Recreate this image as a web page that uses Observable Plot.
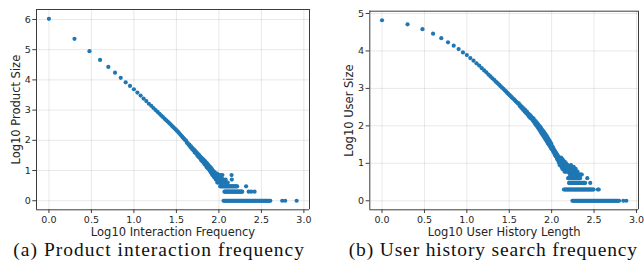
<!DOCTYPE html>
<html><head><meta charset="utf-8">
<script src="https://cdn.jsdelivr.net/npm/d3@7"></script>
<script src="https://cdn.jsdelivr.net/npm/@observablehq/plot@0.6"></script>
<style>
html,body{margin:0;padding:0;background:#fff;}
body{width:644px;height:266px;overflow:hidden;position:relative;font-family:"DejaVu Sans";}
#pa,#pb{position:absolute;top:0;}
#pa{left:0;} #pb{left:322px;}
#cap{position:absolute;left:0;top:0;pointer-events:none;}
</style></head><body>
<div id="pa"></div><div id="pb"></div>
<svg id="cap" width="644" height="266"></svg>
<script>
// ---------- data (log10 values) ----------
const captions = ["(a) Product interaction frequency", "(b) User history search frequency"];
const xLabels = ["Log10 Interaction Frequency", "Log10 User History Length"];
const yLabels = ["Log10 Product Size", "Log10 User Size"];
const xTicks = [0, 0.5, 1, 1.5, 2, 2.5, 3];
const yTicksA = [0, 1, 2, 3, 4, 5, 6];
const yTicksB = [0, 1, 2, 3, 4, 5];

// panel (a): head of the distribution
const prodHeadX = [0,0.301,0.477,0.602,0.699,0.778,0.845,0.903,0.954,1,
1.041,1.079,1.114,1.146,1.176,1.204,1.23,1.255,1.279,1.301,
1.322,1.342,1.362,1.38,1.398,1.415,1.431,1.447,1.462,1.477,
1.491,1.505,1.519,1.531,1.544,1.556,1.568,1.58,1.591,1.602,
1.613,1.623,1.633,1.643,1.653,1.663,1.672,1.681,1.69,1.699,
1.708,1.716,1.724,1.732,1.74,1.748,1.756,1.763,1.771,1.778,
1.785,1.792,1.799,1.806,1.813,1.82,1.826,1.833,1.839,1.845,
1.851,1.857,1.863,1.869,1.875,1.881,1.886,1.892,1.898,1.903,
1.908,1.914,1.919,1.924,1.929,1.934,1.94,1.944,1.949,1.954,
1.959,1.964,1.968,1.973,1.978,1.982,1.987,1.991,1.996,2,
2.004,2.009,2.013,2.017,2.021,2.025,2.029,2.033,2.037,2.041,
2.045,2.053,2.064,2.079,2.09,2.104,2.149,2.152];
const prodHeadY = [6.02,5.36,4.95,4.66,4.43,4.24,4.07,3.92,3.80,3.69,
3.58,3.48,3.38,3.30,3.21,3.14,3.07,3.00,2.94,2.88,
2.82,2.77,2.71,2.66,2.62,2.57,2.53,2.48,2.44,2.40,
2.36,2.32,2.28,2.24,2.20,2.16,2.12,2.08,2.05,2.01,
1.99,1.92,1.91,1.85,1.86,1.78,1.80,1.72,1.74,1.67,
1.69,1.60,1.64,1.56,1.59,1.49,1.54,1.45,1.50,1.41,
1.45,1.34,1.41,1.30,1.38,1.26,1.34,1.20,1.30,1.18,
1.26,1.11,1.23,1.08,1.18,1.04,1.15,1.00,1.11,0.95,
1.08,0.90,1.04,0.85,1.00,0.85,0.95,0.78,0.95,0.78,
0.90,0.70,0.85,0.70,0.90,0.60,0.78,0.70,0.85,0.60,
0.70,0.78,0.60,0.85,0.70,0.60,0.78,0.70,0.60,0.85,
0.60,0.70,0.60,0.70,0.60,0.60,0.85,0.70];
// panel (a): tail rows (products per frequency = 1, 2, 3)
const prodRowCounts = [1, 2, 3];
const prodRow1 = [2.055,2.065,2.075,2.085,2.095,2.105,2.115,2.125,2.135,2.145,2.155,2.165,2.175,2.185,2.195,2.205,2.215,2.225,2.235,2.245,2.255,2.265,2.275,2.285,2.295,2.305,2.315,2.325,2.335,2.345,2.355,2.365,2.375,2.385,2.395,2.405,2.415,2.425,2.435,2.445,2.455,2.465,2.475,2.485,2.495,2.505,2.515,2.525,2.535,2.545,2.555,2.565,2.575,2.585,2.595,2.605,2.745,2.78,2.915];
const prodRow2 = [2.065,2.075,2.085,2.095,2.105,2.115,2.125,2.135,2.145,2.155,2.165,2.175,2.185,2.195,2.205,2.215,2.225,2.235,2.245,2.255,2.265,2.275,2.35,2.38,2.42];
const prodRow3 = [2.015,2.025,2.035,2.045,2.055,2.065,2.075,2.085,2.095,2.105,2.115,2.125,2.135,2.145,2.155,2.165,2.175,2.185,2.195,2.205,2.215,2.32];

// panel (b): head of the distribution
const userHeadX = [0,0.301,0.477,0.602,0.699,0.778,0.845,0.903,0.954,1,
1.041,1.079,1.114,1.146,1.176,1.204,1.23,1.255,1.279,1.301,
1.322,1.342,1.362,1.38,1.398,1.415,1.431,1.447,1.462,1.477,
1.491,1.505,1.519,1.531,1.544,1.556,1.568,1.58,1.591,1.602,
1.613,1.623,1.633,1.643,1.653,1.663,1.672,1.681,1.69,1.699,
1.708,1.716,1.724,1.732,1.74,1.748,1.756,1.763,1.771,1.778,
1.785,1.792,1.799,1.806,1.813,1.82,1.826,1.833,1.839,1.845,
1.851,1.857,1.863,1.869,1.875,1.881,1.886,1.892,1.898,1.903,
1.908,1.914,1.919,1.924,1.929,1.934,1.94,1.944,1.949,1.954,
1.959,1.964,1.968,1.973,1.978,1.982,1.987,1.991,1.996,2,
2.004,2.009,2.013,2.017,2.021,2.025,2.029,2.033,2.037,2.041,
2.045,2.049,2.053,2.057,2.061,2.064,2.068,2.072,2.076,2.079,
2.083,2.086,2.09,2.093,2.097,2.1,2.104,2.107,2.111,2.114,
2.117,2.121,2.124,2.127,2.13,2.134,2.137,2.14,2.143,2.146,
2.149,2.152,2.155,2.158,2.161,2.164,2.167,2.17,2.173,2.176,
2.179,2.182,2.185,2.188,2.19,2.193,2.196,2.199,2.201,2.204,
2.207,2.212,2.217,2.223,2.228,2.236,2.243,2.25,2.262,2.274,2.283];
const userHeadY = [4.82,4.71,4.58,4.46,4.34,4.23,4.14,4.05,3.96,3.89,
3.81,3.74,3.67,3.61,3.54,3.48,3.43,3.37,3.32,3.27,
3.23,3.18,3.14,3.10,3.06,3.02,2.99,2.95,2.92,2.88,
2.85,2.82,2.79,2.76,2.73,2.71,2.68,2.65,2.63,2.60,
2.60,2.53,2.55,2.48,2.50,2.43,2.46,2.38,2.42,2.34,
2.38,2.30,2.33,2.25,2.30,2.21,2.26,2.19,2.22,2.14,
2.20,2.10,2.15,2.05,2.12,2.01,2.08,1.97,2.05,1.93,
2.01,1.89,1.98,1.85,1.94,1.80,1.90,1.76,1.87,1.73,
1.84,1.69,1.80,1.65,1.77,1.62,1.73,1.58,1.70,1.54,
1.66,1.51,1.62,1.48,1.59,1.45,1.55,1.41,1.52,1.38,
1.38,1.45,1.34,1.41,1.30,1.38,1.28,1.34,1.23,1.32,
1.20,1.28,1.18,1.26,1.15,1.23,1.11,1.20,1.08,1.18,
1.04,1.15,1.00,1.11,0.95,1.08,1.04,0.95,1.15,1.00,
0.90,1.04,1.11,0.85,1.00,0.90,1.08,0.95,0.85,1.00,
0.90,0.78,1.04,0.85,0.95,0.78,0.90,1.00,0.85,0.95,
0.78,0.90,0.85,0.95,0.78,0.90,0.85,0.78,0.90,0.85,
0.78,0.90,0.85,0.78,0.95,0.85,0.78,0.90,0.85,0.78,0.85];
// panel (b): tail rows (users per history length = 1..8)
const userRowCounts = [1, 2, 3, 4, 5, 6, 7, 8];
const userRow1 = [2.245,2.255,2.265,2.275,2.285,2.295,2.305,2.315,2.325,2.335,2.345,2.355,2.365,2.375,2.385,2.395,2.405,2.415,2.425,2.435,2.445,2.455,2.465,2.475,2.485,2.495,2.505,2.515,2.525,2.535,2.545,2.555,2.565,2.575,2.585,2.595,2.605,2.615,2.625,2.635,2.645,2.655,2.665,2.675,2.685,2.695,2.705,2.715,2.725,2.735,2.745,2.755,2.765,2.775,2.785,2.795,2.845,2.88];
const userRow2 = [2.145,2.155,2.165,2.175,2.185,2.195,2.205,2.215,2.225,2.235,2.245,2.255,2.265,2.275,2.285,2.295,2.305,2.315,2.325,2.335,2.345,2.355,2.365,2.375,2.385,2.395,2.405,2.415,2.425,2.435,2.445,2.455,2.465,2.475,2.485,2.495,2.545,2.555];
const userRow3 = [2.205,2.215,2.225,2.235,2.245,2.255,2.265,2.275,2.285,2.295,2.305,2.315,2.325,2.335,2.345,2.355,2.365,2.375,2.385,2.395,2.455];
const userRow4 = [2.195,2.205,2.215,2.225,2.235,2.245,2.255,2.265,2.275,2.285,2.295,2.305,2.315,2.325,2.335,2.42];
const userRow5 = [2.215,2.225,2.235,2.245,2.255,2.265,2.275,2.285,2.295,2.305,2.315,2.325,2.335,2.345,2.355];
const userRow6 = [2.215,2.225,2.235,2.245,2.255,2.265,2.275,2.285,2.295,2.305];
const userRow7 = [2.185,2.205,2.225,2.245,2.265];
const userRow8 = [2.165,2.19,2.21,2.235,2.26];

// ---------- build tables ----------
function table(headX, headY, rows, counts) {
  const out = headX.map((x, i) => ({x, y: headY[i]}));
  rows.forEach((r, j) => r.forEach(x => out.push({x, y: Math.log10(counts[j])})));
  return out;
}
const prodData = table(prodHeadX, prodHeadY, [prodRow1, prodRow2, prodRow3], prodRowCounts);
const userData = table(userHeadX, userHeadY,
  [userRow1, userRow2, userRow3, userRow4, userRow5, userRow6, userRow7, userRow8], userRowCounts);

function panel(o) {
  const ink = "#262626";
  return Plot.plot({
    width: 322, height: 240,
    marginLeft: o.ml, marginRight: o.mr, marginTop: o.mt, marginBottom: o.mb,
    style: {fontFamily: "DejaVu Sans", fontSize: "9.5px", color: ink, background: "transparent", overflow: "visible"},
    x: {domain: o.xDomain},
    y: {domain: o.yDomain},
    marks: [
      Plot.gridX(xTicks, {stroke: "#000", strokeOpacity: 0.09}),
      Plot.gridY(o.yTicks, {stroke: "#000", strokeOpacity: 0.09}),
      Plot.dot(o.data, {x: "x", y: "y", r: 2.1, fill: "#1f77b4"}),
      // plot box drawn at the ends of the scale domains
      Plot.ruleX(o.xDomain, {stroke: "#3c3c3c", strokeWidth: 1}),
      Plot.ruleY(o.yDomain, {stroke: "#3c3c3c", strokeWidth: 1}),
      Plot.axisX(xTicks, {tickFormat: d3.format(".1f"), tickSize: 3.7, tickPadding: 3, label: null, stroke: "#3c3c3c"}),
      Plot.axisY(o.yTicks, {tickFormat: d3.format("d"), tickSize: 3.7, tickPadding: 2, label: null, stroke: "#3c3c3c"}),
      Plot.text([o.xLabel], {text: d => d, frameAnchor: "bottom", lineAnchor: "middle", textAnchor: "middle", dy: 22.3, fontSize: 11.5, fill: ink}),
      Plot.text([o.yLabel], {text: d => d, frameAnchor: "left", lineAnchor: "middle", textAnchor: "middle", dx: -20.5, rotate: -90, fontSize: 11.5, fill: ink})
    ]
  });
}

document.getElementById("pa").append(panel({
  data: prodData, xDomain: [-0.146, 3.066], yDomain: [-0.30, 6.33], yTicks: yTicksA,
  xLabel: xLabels[0], yLabel: yLabels[0], ml: 36, mr: 13, mt: 9, mb: 30.7
}));
document.getElementById("pb").append(panel({
  data: userData, xDomain: [-0.144, 3.024], yDomain: [-0.241, 5.061], yTicks: yTicksB,
  xLabel: xLabels[1], yLabel: yLabels[1], ml: 47.3, mr: 6, mt: 10.7, mb: 30.7
}));

// captions
const cap = d3.select("#cap");
const capPos = [{x: 13.3, y: 256.3, w: 290.7}, {x: 348.7, y: 256, w: 288.3}];
captions.forEach((t, i) => {
  cap.append("text")
    .attr("x", capPos[i].x).attr("y", capPos[i].y)
    .attr("textLength", capPos[i].w).attr("lengthAdjust", "spacing")
    .attr("font-family", "Liberation Serif").attr("font-size", 19.5)
    .attr("fill", "#111").text(t);
});
</script>
</body></html>
